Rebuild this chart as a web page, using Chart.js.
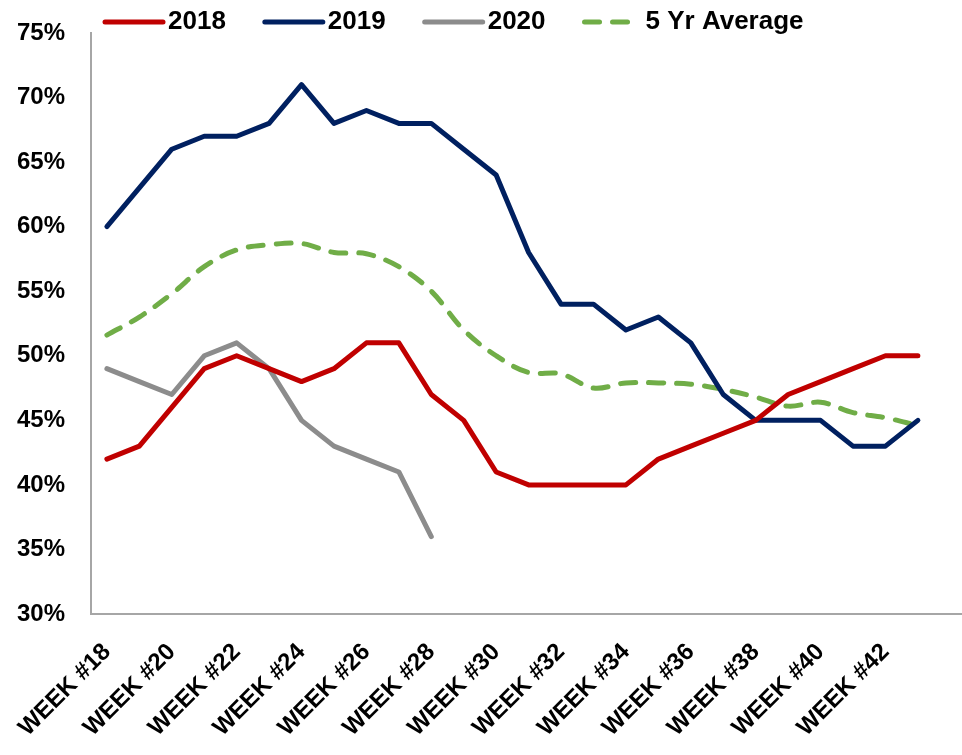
<!DOCTYPE html>
<html>
<head>
<meta charset="utf-8">
<script src="https://cdn.jsdelivr.net/npm/chart.js@4/dist/chart.umd.min.js"></script>
<style>
html,body{margin:0;padding:0;background:#fff;}
#wrap{width:962px;height:755px;position:relative;}
</style>
</head>
<body>
<div id="wrap"><canvas id="c" width="962" height="755"></canvas></div>
<script>
// ---- data ----
const weeks = [18,19,20,21,22,23,24,25,26,27,28,29,30,31,32,33,34,35,36,37,38,39,40,41,42,43];
const weekTicks = [18,20,22,24,26,28,30,32,34,36,38,40,42];
const yTicks = [30,35,40,45,50,55,60,65,70,75];
const s2018 = [42,43,46,49,50,49,48,49,51,51,47,45,41,40,40,40,40,42,43,44,45,47,48,49,50,50];
const s2019 = [60,63,66,67,67,68,71,68,69,68,68,66,64,58,54,54,52,53,51,47,45,45,45,43,43,45];
const s2020 = [49,48,47,50,51,49,45,43,42,41,36];
const avg5 = [51.6,53.0,54.8,56.9,58.2,58.6,58.7,58.0,57.9,56.9,55.0,52.0,50.0,48.7,48.6,47.5,47.9,47.9,47.8,47.4,46.8,46.1,46.4,45.6,45.2,44.6];
const seriesNames = ['2018','2019','2020','5 Yr Average'];

const FONT = '"Liberation Sans", Arial, sans-serif';
const toPts = arr => arr.map((v,i)=>({x:weeks[i], y:v}));

const legendPlugin = {
  id:'customLegend',
  afterDraw(chart){
    const ctx = chart.ctx;
    ctx.save();
    ctx.font = 'bold 26px ' + FONT;
    ctx.textBaseline = 'middle';
    ctx.fillStyle = '#000';
    let x = 105; const y = 22;
    chart.data.datasets.forEach(ds=>{
      const dashed = ds.borderDash && ds.borderDash.length;
      const len = dashed ? 47 : 58;
      ctx.save();
      ctx.strokeStyle = ds.borderColor;
      ctx.lineWidth = 5;
      ctx.lineCap = 'round';
      ctx.setLineDash(dashed ? ds.borderDash : []);
      ctx.beginPath(); ctx.moveTo(x, y); ctx.lineTo(x+len, y); ctx.stroke();
      ctx.restore();
      const tx = x + (dashed ? 61 : 63);
      ctx.fillText(ds.label, tx, y);
      x = tx + ctx.measureText(ds.label).width + 39;
    });
    ctx.restore();
  }
};

new Chart(document.getElementById('c'), {
  type:'line',
  data:{
    datasets:[
      {label:seriesNames[0], data:toPts(s2018), borderColor:'#C00000', borderWidth:5},
      {label:seriesNames[1], data:toPts(s2019), borderColor:'#002060', borderWidth:5},
      {label:seriesNames[2], data:toPts(s2020), borderColor:'#8C8C8C', borderWidth:5},
      {label:seriesNames[3], data:toPts(avg5), borderColor:'#70AD47', borderWidth:5, borderDash:[15,13], tension:0.35}
    ]
  },
  options:{
    responsive:false,
    animation:false,
    layout:{padding:{top:33, right:0, left:0, bottom:0}},
    elements:{
      point:{radius:0, hoverRadius:0},
      line:{borderJoinStyle:'round', borderCapStyle:'round', fill:false}
    },
    plugins:{legend:{display:false}, tooltip:{enabled:false}},
    scales:{
      x:{
        type:'linear',
        min:17.51, max:44.36,
        afterBuildTicks(scale){ scale.ticks = weekTicks.map(v=>({value:v})); },
        afterFit(scale){ scale.height = 141; scale.paddingLeft = 0; scale.paddingRight = 0; },
        grid:{display:false, drawTicks:false},
        border:{display:true, color:'#A6A6A6', width:2},
        ticks:{
          autoSkip:false, minRotation:45, maxRotation:45, padding:24,
          color:'#000', font:{family:FONT, size:24, weight:'bold'},
          callback:v=>'WEEK #' + v
        }
      },
      y:{
        min:30, max:75,
        afterBuildTicks(scale){ scale.ticks = yTicks.map(v=>({value:v})); },
        afterFit(scale){ scale.width = 91; scale.paddingTop = 0; scale.paddingBottom = 0; },
        grid:{display:false, drawTicks:false},
        border:{display:true, color:'#A6A6A6', width:2},
        ticks:{
          padding:26, color:'#000', font:{family:FONT, size:24, weight:'bold'},
          callback:v=>v + '%'
        }
      }
    }
  },
  plugins:[legendPlugin]
});
</script>
</body>
</html>
